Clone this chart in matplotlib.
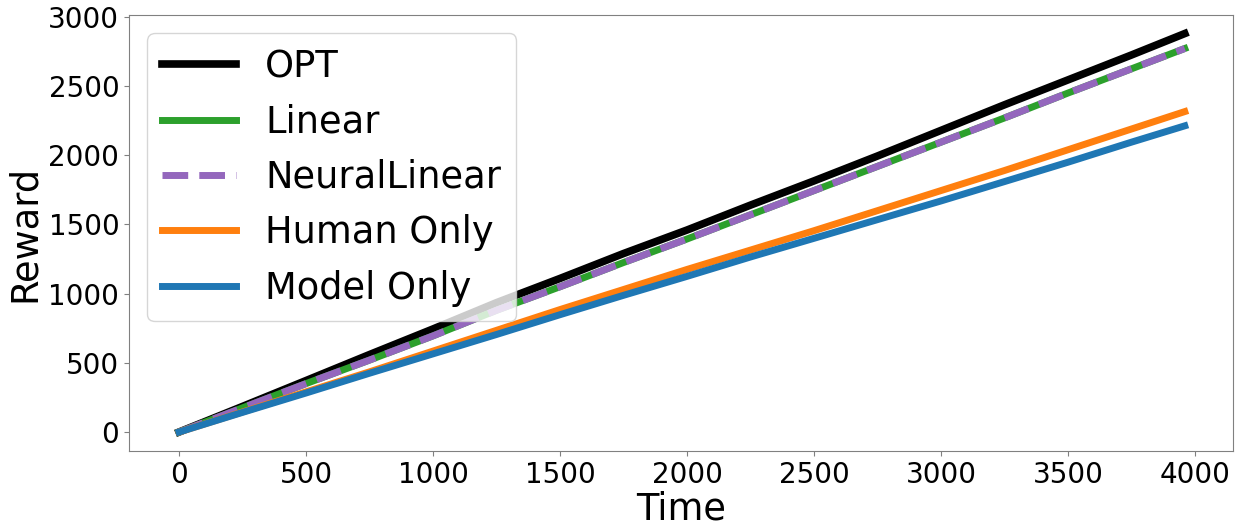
import matplotlib.pyplot as plt

# time steps and cumulative reward
time = [0, 250, 500, 750, 1000, 1250, 1500, 1750, 2000, 2250, 2500,
        2750, 3000, 3250, 3500, 3750, 3960]
opt = [0, 185, 372, 560, 745, 935, 1110, 1290, 1460, 1640, 1815,
       1995, 2180, 2365, 2545, 2725, 2880]
linear = [0, 175, 350, 520, 695, 880, 1050, 1225, 1395, 1570, 1745,
          1920, 2095, 2270, 2450, 2625, 2772]
neural_linear = [0, 175, 350, 520, 695, 880, 1050, 1225, 1395, 1570, 1745,
                 1920, 2095, 2270, 2450, 2625, 2772]
human_only = [0, 145, 290, 435, 585, 735, 885, 1030, 1175, 1315, 1455,
              1600, 1745, 1890, 2040, 2190, 2316]
model_only = [0, 142, 282, 425, 565, 705, 848, 988, 1125, 1265, 1400,
              1535, 1670, 1810, 1950, 2095, 2213]

fig, ax = plt.subplots(figsize=(12.36, 5.25), dpi=100)
ax.plot(time, opt, color="black", linewidth=5.5, label="OPT")
ax.plot(time, linear, color="#2ca02c", linewidth=5, label="Linear")
ax.plot(time, neural_linear, color="#9467bd", linewidth=5, linestyle="--",
        label="NeuralLinear")
ax.plot(time, human_only, color="#ff7f0e", linewidth=5, label="Human Only")
ax.plot(time, model_only, color="#1f77b4", linewidth=5, label="Model Only")

ax.set_xlim(-197, 4150)
ax.set_ylim(-137, 3014)
ax.set_xticks([0, 500, 1000, 1500, 2000, 2500, 3000, 3500, 4000])
ax.set_yticks([0, 500, 1000, 1500, 2000, 2500, 3000])
ax.tick_params(axis="both", labelsize=20, color="#808080")
for spine in ax.spines.values():
    spine.set_color("#808080")
ax.set_xlabel("Time", fontsize=26.5, labelpad=1)
ax.set_ylabel("Reward", fontsize=26.5, labelpad=4)
ax.legend(loc="upper left", fontsize=26.5)

fig.subplots_adjust(left=0.1044, right=0.9976, top=0.9714, bottom=0.141)
fig.savefig("out.png", dpi=100)
